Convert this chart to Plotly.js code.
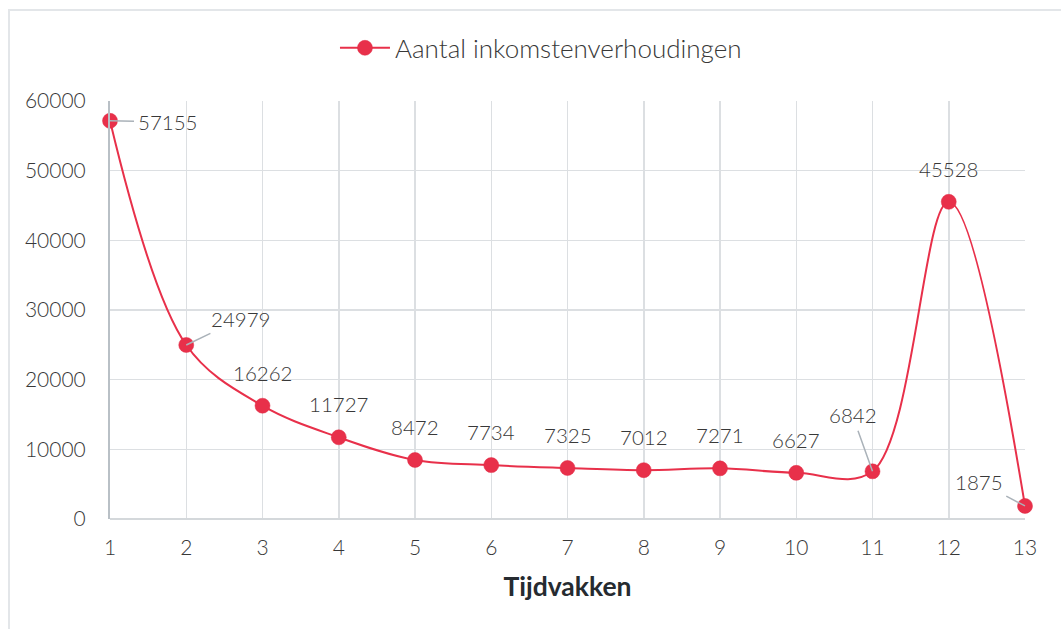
<!DOCTYPE html>
<html>
<head>
<meta charset="utf-8">
<script src="https://cdn.plot.ly/plotly-3.0.1.min.js"></script>
<style>
html,body{margin:0;padding:0;background:#fff;overflow:hidden;}
#chart{width:1061px;height:629px;}
#frame{position:absolute;left:8px;top:9px;width:1100px;height:700px;border:2px solid #e3e6e9;pointer-events:none;}
</style>
</head>
<body>
<div id="chart"></div>
<div id="frame"></div>
<script>
const seriesName = "Aantal inkomstenverhoudingen";
const periods = [1, 2, 3, 4, 5, 6, 7, 8, 9, 10, 11, 12, 13];
const counts = [57155, 24979, 16262, 11727, 8472, 7734, 7325, 7012, 7271, 6627, 6842, 45528, 1875];
const yTicks = [0, 10000, 20000, 30000, 40000, 50000, 60000];
const xTitle = "Tijdvakken";

// label placement: [ax, ay] offsets in px for labels with leader lines, others plain label above
const leader = {0: [57, 1], 1: [54, -26], 10: [-20, -56], 12: [-46, -24]};

const red = "#e8304a";
const textCol = "#383838";
const fam = "Lato, sans-serif";

const annotations = periods.map((p, i) => {
  const base = {
    x: p, y: counts[i], xref: "x", yref: "y",
    text: String(counts[i]),
    font: {family: fam, size: 20.5, color: textCol, weight: 300}
  };
  if (leader[i]) {
    return Object.assign(base, {
      showarrow: true, arrowhead: 0, arrowwidth: 1.5, arrowcolor: "#aab2b9",
      ax: leader[i][0], ay: leader[i][1], standoff: 0, startstandoff: 2
    });
  }
  return Object.assign(base, {showarrow: false, yshift: 33, yanchor: "middle"});
});

const trace = {
  x: periods, y: counts, name: seriesName,
  type: "scatter", mode: "lines+markers",
  line: {color: red, width: 2, shape: "spline", smoothing: 1},
  marker: {color: red, size: 15, line: {color: "#e02a44", width: 0.5}},
  cliponaxis: false
};

const layout = {
  width: 1061, height: 629,
  margin: {l: 110, r: 36, t: 101, b: 110},
  paper_bgcolor: "#ffffff", plot_bgcolor: "#ffffff",
  font: {family: fam, size: 20, color: textCol, weight: 300},
  showlegend: true,
  legend: {orientation: "h", x: 0.471, xanchor: "center", y: 1.127, yanchor: "middle",
           itemwidth: 50,
           font: {family: fam, size: 26, color: textCol, weight: 300}},
  xaxis: {
    range: [1, 13], tickvals: periods, ticktext: periods.map(String),
    showgrid: true, gridcolor: "#dcdfe2", gridwidth: 1.5,
    showline: false, zeroline: false, ticks: "", ticklabelstandoff: 14,
    tickfont: {family: fam, size: 21, color: textCol, weight: 300},
    title: {text: xTitle, font: {family: fam, size: 26.5, color: "#262b30", weight: "bold"}, standoff: 19}
  },
  yaxis: {
    range: [0, 60000], tickvals: yTicks, ticktext: yTicks.map(String),
    showgrid: true, gridcolor: "#dcdfe2", gridwidth: 1.5,
    showline: true, linecolor: "#b9c0c6", linewidth: 2,
    zeroline: true, zerolinecolor: "#d4d8db", zerolinewidth: 2,
    ticks: "", ticklabelstandoff: 18,
    tickfont: {family: fam, size: 21, color: textCol, weight: 300}
  },
  annotations: annotations
};

Plotly.newPlot("chart", [trace], layout, {displayModeBar: false, staticPlot: true});
</script>
</body>
</html>
